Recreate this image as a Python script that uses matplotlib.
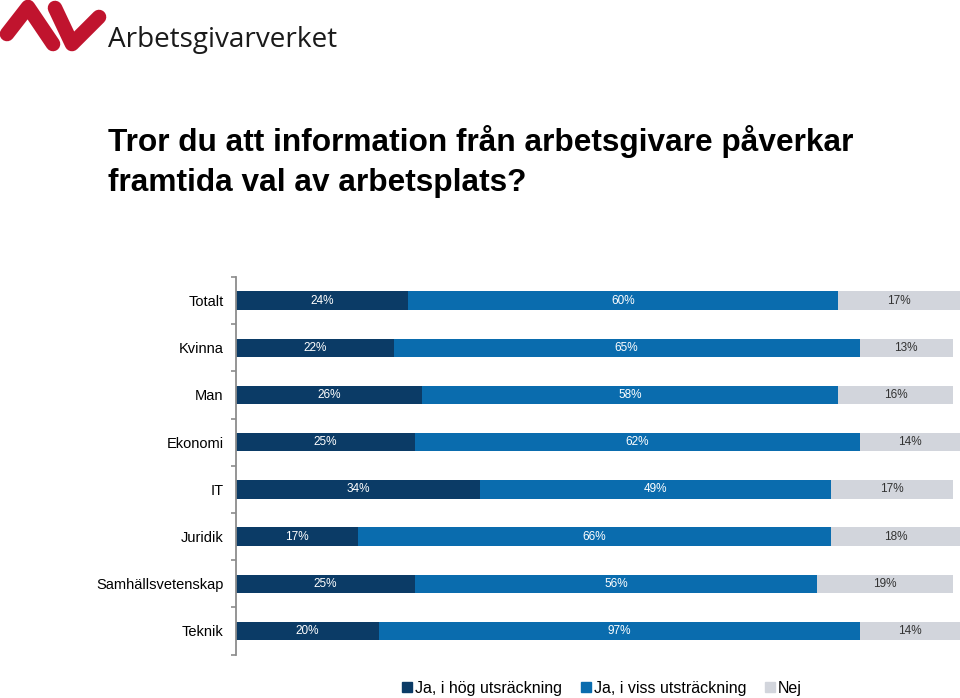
import numpy as np
import matplotlib
matplotlib.use('Agg')
import matplotlib.pyplot as plt
from matplotlib.lines import Line2D

plt.rcParams['font.family'] = ['Liberation Sans', 'DejaVu Sans']

categories = ['Totalt', 'Kvinna', 'Man', 'Ekonomi', 'IT', 'Juridik',
              'Samhällsvetenskap', 'Teknik']
hog = [24, 22, 26, 25, 34, 17, 25, 20]
viss = [60, 65, 58, 62, 49, 66, 56, 67]
nej = [17, 13, 16, 14, 17, 18, 19, 14]
# label printed on the chart (Teknik shows "97%" although the bar is ~67)
hog_labels = [f'{v}%' for v in hog]
viss_labels = ['60%', '65%', '58%', '62%', '49%', '66%', '56%', '97%']
nej_labels = [f'{v}%' for v in nej]

series = ['Ja, i hög utsräckning', 'Ja, i viss utsträckning', 'Nej']
colors = ['#0b3b66', '#0a6cae', '#d2d5dc']
text_colors = ['white', 'white', '#333333']

W, H = 960, 698
fig = plt.figure(figsize=(W / 100, H / 100), dpi=100)

# background layer in pixel coordinates for logo / title
bg = fig.add_axes([0, 0, 1, 1], zorder=0)
bg.set_xlim(0, W)
bg.set_ylim(H, 0)
bg.axis('off')

red = '#c0142e'
bg.plot([7, 28, 53], [34, 7, 44], color=red, lw=10.5, solid_capstyle='round',
        solid_joinstyle='round')
bg.plot([55, 72, 99], [8, 44, 17], color=red, lw=10.5, solid_capstyle='round',
        solid_joinstyle='round')
logo = bg.text(108, 47, 'Arbetsgivarverket', fontsize=20, family='Open Sans',
               color='#1a1a1a', va='baseline', ha='left')
# fit logo text to its width in the reference
fig.canvas.draw()
bb = logo.get_window_extent()
logo.set_fontsize(20 * 228 / bb.width)

bg.text(108, 151, 'Tror du att information från arbetsgivare påverkar',
        fontsize=22.8, fontweight='bold', va='baseline', ha='left', color='black')
bg.text(108, 191, 'framtida val av arbetsplats?',
        fontsize=22.8, fontweight='bold', va='baseline', ha='left', color='black')

# chart
top_px, bot_px = 277, 654.6
ax = fig.add_axes([236 / W, 1 - bot_px / H, 1 - 236 / W, (bot_px - top_px) / H],
                  zorder=1)
ax.patch.set_alpha(0)
y = np.arange(len(categories))
left = np.zeros(len(categories))
bar_h = 0.39
for vals, labs, col, tcol, name in zip([hog, viss, nej],
                                        [hog_labels, viss_labels, nej_labels],
                                        colors, text_colors, series):
    vals = np.array(vals, dtype=float)
    ax.barh(y, vals, left=left, height=bar_h, color=col, label=name)
    for yi, l, v, t in zip(y, left, vals, labs):
        ax.text(l + v / 2, yi, t, ha='center', va='center', fontsize=8.5,
                color=tcol)
    left += vals

ax.set_xlim(0, 101)
ax.set_ylim(len(categories) - 0.5, -0.5)
ax.set_xticks([])
ax.set_yticks(y)
ax.set_yticklabels(categories, fontsize=10.5)
ax.tick_params(axis='y', which='major', length=0, pad=9)
ax.set_yticks(np.arange(-0.5, len(categories), 1), minor=True)
ax.tick_params(axis='y', which='minor', length=3.5, width=1.2, color='#8c8c8c')
for s in ['top', 'right', 'bottom']:
    ax.spines[s].set_visible(False)
ax.spines['left'].set_color('#8c8c8c')
ax.spines['left'].set_linewidth(1.3)

handles = [Line2D([], [], marker='s', linestyle='none', markersize=7.5,
                  markerfacecolor=c, markeredgecolor=c) for c in colors]
fig.legend(handles, series, loc='center', bbox_to_anchor=(601 / W, 1 - 688 / H),
           ncol=3, frameon=False, fontsize=11.5, handletextpad=0.1,
           columnspacing=1.1, handlelength=0.8)

fig.savefig('out.png', dpi=100)
